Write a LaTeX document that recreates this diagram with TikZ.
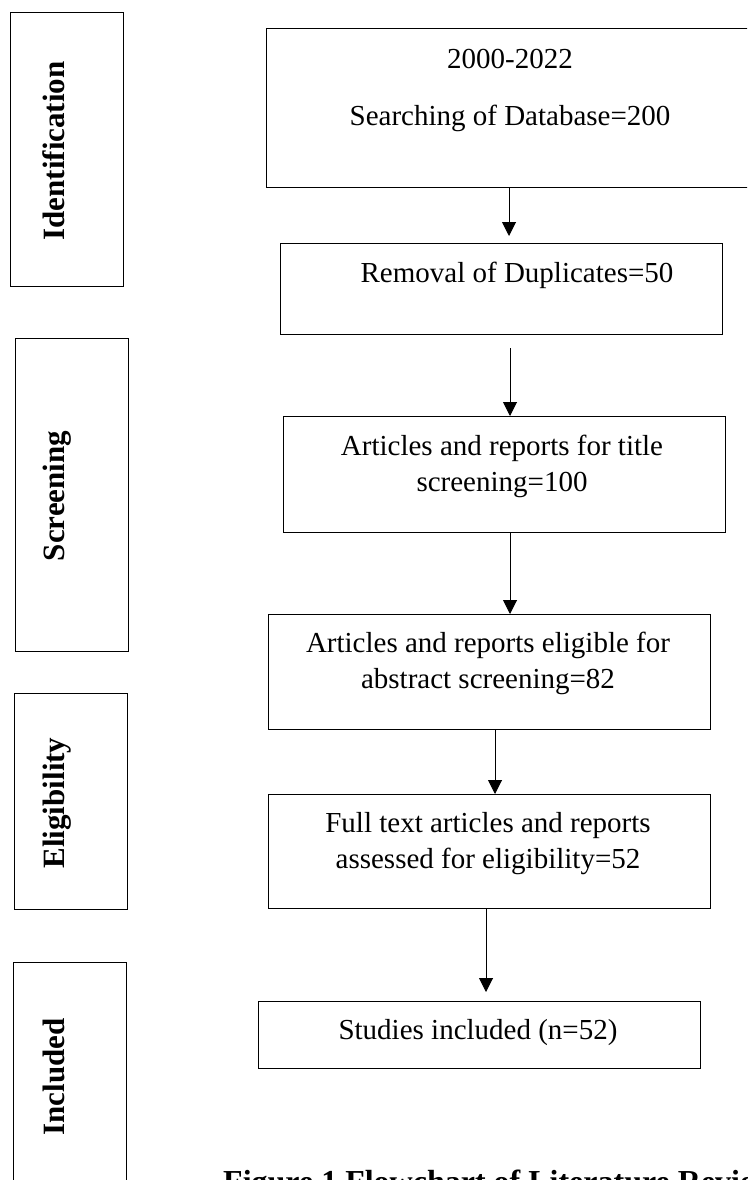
\documentclass[tikz,border=0pt]{standalone}
\usepackage{fontspec}
\setmainfont{Liberation Serif}
\usetikzlibrary{arrows.meta}
\begin{document}
\begin{tikzpicture}[x=1pt,y=-1pt,
  box/.style={draw,line width=1.2pt,inner sep=0pt,anchor=north west},
  txt/.style={anchor=base,align=center,inner sep=0pt,font=\fontsize{29}{36}\selectfont},
  lab/.style={anchor=base,rotate=90,inner sep=0pt,font=\fontsize{31}{36}\selectfont\bfseries},
  arr/.style={line width=1pt,-{Triangle[length=14pt,width=14pt]}}]
\useasboundingbox (0,0) rectangle (747,1180);
\clip (0,0) rectangle (747,1180);
% stage boxes on the left
\node[box,minimum width=113pt,minimum height=274pt] (idb) at (10,12) {};
\node[box,minimum width=113pt,minimum height=313pt] (scb) at (15,338) {};
\node[box,minimum width=113pt,minimum height=216pt] (elb) at (14,693) {};
\node[box,minimum width=113pt,minimum height=290pt] (inb) at (13,962) {};
\node[lab] (idl) at (64,151) {Identification};
\node[lab] (scl) at (64,496) {Screening};
\node[lab] (ell) at (64,803) {Eligibility};
\node[lab] (inl) at (64,1077) {Included};
% flow boxes (text anchored on the baseline of its last line)
\node[box,minimum width=500pt,minimum height=159pt] (b1) at (266,28) {};
\node[box,minimum width=442pt,minimum height=91pt] (b2) at (280,243) {};
\node[box,minimum width=442pt,minimum height=116pt] (b3) at (283,416) {};
\node[box,minimum width=442pt,minimum height=115pt] (b4) at (268,614) {};
\node[box,minimum width=442pt,minimum height=114pt] (b5) at (268,794) {};
\node[box,minimum width=442pt,minimum height=67pt] (b6) at (258,1001) {};
\node[txt] (t1) at (510,126) {2000-2022\\[22pt]Searching of Database=200};
\node[txt] (t2) at (517,282) {Removal of Duplicates=50};
\node[txt] (t3) at (502,491) {Articles and reports for title\\screening=100};
\node[txt] (t4) at (488,688) {Articles and reports eligible for\\abstract screening=82};
\node[txt] (t5) at (488,868) {Full text articles and reports\\assessed for eligibility=52};
\node[txt] (t6) at (478,1039) {Studies included (n=52)};
\node[anchor=base west,inner sep=0pt,font=\fontsize{32}{36}\selectfont\bfseries] (cap) at (223,1192) {Figure 1 Flowchart of Literature Review};
% arrows
\coordinate (x1) at (509,0);
\coordinate (x2) at (510,0);
\coordinate (x4) at (495,0);
\coordinate (x5) at (486,0);
\draw[arr,shorten >=7pt] (b1.south -| x1) -- (b2.north -| x1);
\draw[arr,shorten <=13pt] (b2.south -| x2) -- (b3.north -| x2);
\draw[arr] (b3.south -| x2) -- (b4.north -| x2);
\draw[arr] (b4.south -| x4) -- (b5.north -| x4);
\draw[arr,shorten >=9pt] (b5.south -| x5) -- (b6.north -| x5);
\end{tikzpicture}
\end{document}
